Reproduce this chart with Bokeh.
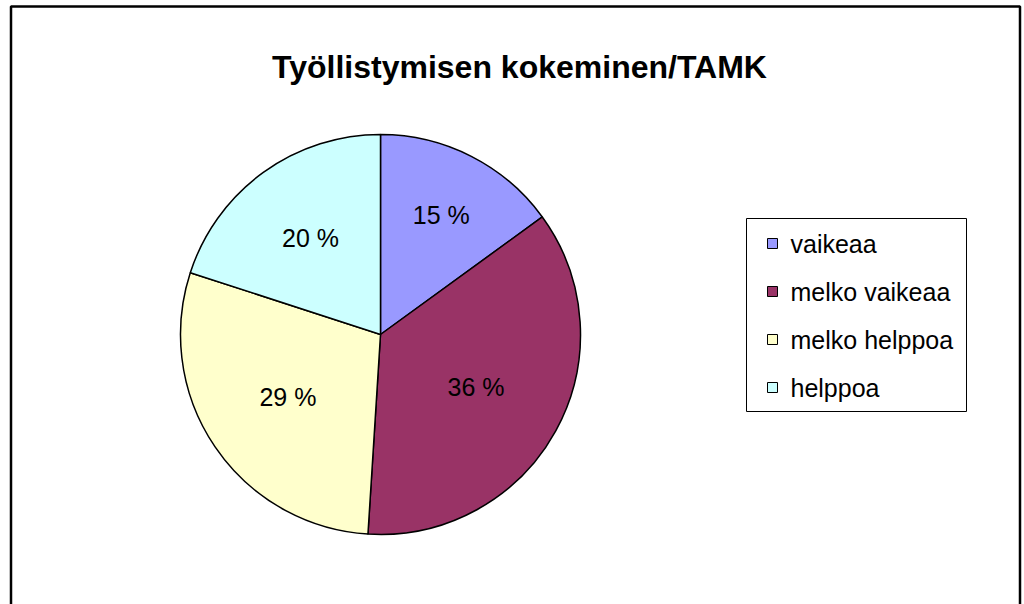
import math
from bokeh.plotting import figure
from bokeh.models import Range1d
from bokeh.core.properties import value
from bokeh.embed import file_html
from bokeh.resources import INLINE

title = "Työllistymisen kokeminen/TAMK"
categories = ["vaikeaa", "melko vaikeaa", "melko helppoa", "helppoa"]
percent = [15, 36, 29, 20]
colors = ["#9999FF", "#993366", "#FFFFCC", "#CCFFFF"]

W, H = 1024, 604
p = figure(width=W, height=H, output_backend="svg", toolbar_location=None,
           x_range=Range1d(0, W), y_range=Range1d(0, H), min_border=0)
p.axis.visible = False
p.grid.visible = False
p.outline_line_color = None
p.background_fill_color = "white"
p.border_fill_color = "white"

FONT = "Liberation Sans"

# chart area border (bottom edge lies below the visible page)
p.line(x=[10.5, 10.5, 1019.5, 1019.5], y=[-20, 598, 598, -20], line_color="black", line_width=2.5)

# title
p.text(x=[519], y=[538], text=[title], text_font=value(FONT), text_font_size="32px",
       text_font_style="bold", text_align="center", text_baseline="middle", text_color="black")

# pie
cx, cy, r = 380, 270, 200
label_radius = [0.67, 0.545, 0.56, 0.595]  # label placement (fraction of radius)
total = sum(percent)
cum = 0
starts, ends, lx, ly, labels = [], [], [], [], []
for v, lr in zip(percent, label_radius):
    a0 = math.pi / 2 - 2 * math.pi * cum / total
    a1 = math.pi / 2 - 2 * math.pi * (cum + v) / total
    starts.append(a0)
    ends.append(a1)
    mid = (a0 + a1) / 2
    lx.append(cx + lr * r * math.cos(mid))
    ly.append(cy + lr * r * math.sin(mid))
    labels.append(f"{v} %")
    cum += v

p.wedge(x=cx, y=cy, radius=r, start_angle=starts, end_angle=ends, direction="clock",
        fill_color=colors, line_color="black", line_width=1.5)
p.text(x=lx, y=ly, text=labels, text_font=value(FONT), text_font_size="25px",
       text_align="center", text_baseline="middle", text_color="black")

# legend
lx0, ly_top, lw, lh = 746, 386, 220, 193
p.quad(left=[lx0], right=[lx0 + lw], top=[ly_top], bottom=[ly_top - lh],
       fill_color="white", line_color="black", line_width=1)
ys = [ly_top - 25 - 48 * i for i in range(len(categories))]
p.rect(x=[772] * len(categories), y=ys, width=10, height=10, fill_color=colors,
       line_color="black", line_width=1)
p.text(x=[790] * len(categories), y=ys, text=categories, text_font=value(FONT),
       text_font_size="25px", text_align="left", text_baseline="middle", text_color="black")

open("out.html", "w").write(file_html(p, INLINE))
